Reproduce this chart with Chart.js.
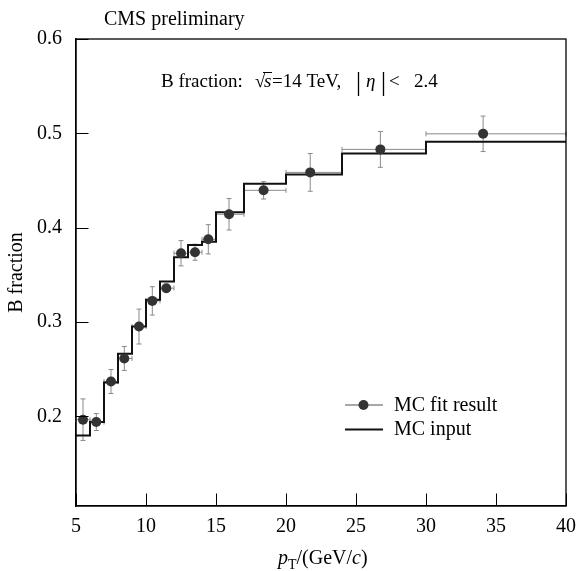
<!DOCTYPE html>
<html>
<head>
<meta charset="utf-8">
<script src="https://cdn.jsdelivr.net/npm/chart.js@4.4.0/dist/chart.umd.min.js"></script>
<style>
    html, body { margin: 0; padding: 0; background: #fff; }
</style>
</head>
<body>
<canvas id="canvas_bfrac" width="577" height="571"></canvas>
<script>
// MC fit result: bin centre, value, y error and bin edges (x error)
var fit_pt = [5.5, 6.45, 7.5, 8.45, 9.5, 10.45, 11.45, 12.5, 13.5, 14.45, 15.93, 18.4, 21.73, 26.74, 34.08];
var fit_frac = [0.1965, 0.194, 0.237, 0.2614, 0.2952, 0.3224, 0.3359, 0.3729, 0.374, 0.3877, 0.4142, 0.4396, 0.4586, 0.483, 0.4995];
var fit_err = [0.022, 0.009, 0.0127, 0.0127, 0.0185, 0.015, 0.004, 0.0134, 0.0085, 0.0155, 0.0167, 0.0092, 0.020, 0.019, 0.0188];
var fit_lo = [5, 6, 7, 8, 9, 10, 11, 12, 13, 14, 15, 17, 20, 24, 30];
var fit_hi = [6, 7, 8, 9, 10, 11, 12, 13, 14, 15, 17, 20, 24, 30, 40];

// MC input histogram
var input_edges = [5, 6, 7, 8, 9, 10, 11, 12, 13, 14, 15, 17, 20, 24, 30, 40];
var input_frac = [0.1796, 0.194, 0.236, 0.2663, 0.2952, 0.3235, 0.3429, 0.3687, 0.3817, 0.3852, 0.4163, 0.4466, 0.4565, 0.4787, 0.491];

var x_ticks = [5, 10, 15, 20, 25, 30, 35, 40];
var y_ticks = [0.2, 0.3, 0.4, 0.5, 0.6];

var FONT = "'Liberation Serif', 'DejaVu Serif', serif";
var ERR_COLOR = "#8a8a8a";
var MARK_COLOR = "#333333";

function buildStepData() {
    var pts = [];
    for (var i = 0; i < input_edges.length; i++) {
        var v = input_frac[Math.min(i, input_frac.length - 1)];
        pts.push({x: input_edges[i], y: v});
    }
    return pts;
}

function buildFitData() {
    var pts = [];
    for (var i in fit_pt) {
        pts.push({x: fit_pt[i], y: fit_frac[i]});
    }
    return pts;
}

// error bars, drawn under the markers
var errorBarPlugin = {
    id: 'errorBars',
    beforeDatasetsDraw: function(chart) {
        var ctx = chart.ctx;
        var xs = chart.scales.x, ys = chart.scales.y;
        var cap = 2.5;
        ctx.save();
        ctx.strokeStyle = ERR_COLOR;
        ctx.lineWidth = 1;
        for (var i = 0; i < fit_pt.length; i++) {
            var px = xs.getPixelForValue(fit_pt[i]);
            var py = ys.getPixelForValue(fit_frac[i]);
            var yhi = ys.getPixelForValue(fit_frac[i] + fit_err[i]);
            var ylo = ys.getPixelForValue(fit_frac[i] - fit_err[i]);
            var xl = xs.getPixelForValue(fit_lo[i]);
            var xh = xs.getPixelForValue(fit_hi[i]);
            ctx.beginPath();
            ctx.moveTo(px, yhi); ctx.lineTo(px, ylo);
            ctx.moveTo(px - cap, yhi); ctx.lineTo(px + cap, yhi);
            ctx.moveTo(px - cap, ylo); ctx.lineTo(px + cap, ylo);
            ctx.moveTo(xl, py); ctx.lineTo(xh, py);
            ctx.moveTo(xl, py - cap); ctx.lineTo(xl, py + cap);
            ctx.moveTo(xh, py - cap); ctx.lineTo(xh, py + cap);
            ctx.stroke();
        }
        ctx.restore();
    }
};

// frame, inner ticks, texts and legend
var decorPlugin = {
    id: 'decor',
    afterDraw: function(chart) {
        var ctx = chart.ctx;
        var a = chart.chartArea;
        var xs = chart.scales.x, ys = chart.scales.y;
        ctx.save();
        ctx.strokeStyle = "#000";
        ctx.lineWidth = 1.3;
        ctx.strokeRect(a.left, a.top, a.right - a.left, a.bottom - a.top);

        // ticks pointing inwards
        ctx.lineWidth = 1;
        ctx.beginPath();
        for (var i in x_ticks) {
            var px = Math.round(xs.getPixelForValue(x_ticks[i])) + 0.5;
            ctx.moveTo(px, a.bottom); ctx.lineTo(px, a.bottom - 12.5);
        }
        for (var j in y_ticks) {
            var py = Math.round(ys.getPixelForValue(y_ticks[j])) + 0.5;
            ctx.moveTo(a.left, py); ctx.lineTo(a.left + 12.5, py);
        }
        ctx.stroke();

        ctx.fillStyle = "#000";
        ctx.textBaseline = "alphabetic";
        ctx.textAlign = "left";

        // header
        ctx.font = "20px " + FONT;
        ctx.fillText("CMS preliminary", 104, 25);

        // B fraction: sqrt(s)=14 TeV, |eta| < 2.4
        var by = 87;
        ctx.font = "19px " + FONT;
        ctx.fillText("B fraction:", 161, by);
        ctx.fillText("\u221A", 255, by);
        ctx.font = "italic 19px " + FONT;
        ctx.fillText("s", 264, by);
        ctx.font = "19px " + FONT;
        ctx.fillText("=14 TeV,", 272, by);
        ctx.font = "italic 19px " + FONT;
        ctx.fillText("\u03B7", 366, by);
        ctx.font = "19px " + FONT;
        ctx.fillText("<", 389, by);
        ctx.fillText("2.4", 414, by);
        ctx.beginPath();
        ctx.lineWidth = 1;
        ctx.moveTo(263, 72.5); ctx.lineTo(272, 72.5);
        ctx.stroke();
        ctx.beginPath();
        ctx.lineWidth = 1.3;
        ctx.moveTo(358.5, 72); ctx.lineTo(358.5, 96);
        ctx.moveTo(383.5, 72); ctx.lineTo(383.5, 96);
        ctx.stroke();

        // x axis title p_T/(GeV/c)
        var tx = 278, ty = 564;
        ctx.font = "italic 20px " + FONT;
        ctx.fillText("p", tx, ty);
        tx += ctx.measureText("p").width;
        ctx.font = "14px " + FONT;
        ctx.fillText("T", tx, ty + 5);
        tx += ctx.measureText("T").width;
        ctx.font = "20px " + FONT;
        ctx.fillText("/(GeV/", tx, ty);
        tx += ctx.measureText("/(GeV/").width;
        ctx.font = "italic 20px " + FONT;
        ctx.fillText("c", tx, ty);
        tx += ctx.measureText("c").width;
        ctx.font = "20px " + FONT;
        ctx.fillText(")", tx, ty);

        // legend
        ctx.textBaseline = "middle";
        ctx.strokeStyle = ERR_COLOR;
        ctx.lineWidth = 1.5;
        ctx.beginPath();
        ctx.moveTo(345, 405); ctx.lineTo(383, 405);
        ctx.stroke();
        ctx.fillStyle = MARK_COLOR;
        ctx.beginPath();
        ctx.arc(363.5, 405, 5, 0, Math.PI * 2);
        ctx.fill();
        ctx.strokeStyle = "#111";
        ctx.lineWidth = 2;
        ctx.beginPath();
        ctx.moveTo(345, 429.5); ctx.lineTo(383, 429.5);
        ctx.stroke();
        ctx.fillStyle = "#000";
        ctx.font = "20px " + FONT;
        ctx.fillText("MC fit result", 394, 406);
        ctx.fillText("MC input", 394, 430);
        ctx.restore();
    }
};

function drawBFraction() {
    var ctx = document.getElementById("canvas_bfrac").getContext("2d");
    var tickFont = {family: FONT, size: 20};

    var chart = new Chart(ctx, {
        type: 'line',
        data: {
            datasets: [{
                label: 'MC input',
                data: buildStepData(),
                stepped: 'before',
                borderColor: '#111',
                borderWidth: 2,
                pointRadius: 0,
                fill: false,
                order: 2
            }, {
                type: 'scatter',
                label: 'MC fit result',
                data: buildFitData(),
                showLine: false,
                pointRadius: 5,
                pointBackgroundColor: MARK_COLOR,
                pointBorderColor: MARK_COLOR,
                pointBorderWidth: 0,
                order: 1
            }]
        },
        options: {
            responsive: false,
            animation: false,
            layout: {padding: {top: 39, right: 0, left: 0, bottom: 0}},
            plugins: {
                legend: {display: false},
                tooltip: {enabled: false}
            },
            scales: {
                x: {
                    type: 'linear',
                    min: 5,
                    max: 40,
                    grid: {display: false},
                    border: {display: true, color: '#000', width: 1.3},
                    ticks: {font: tickFont, color: '#000', padding: 1, maxRotation: 0},
                    afterBuildTicks: function(s) {
                        s.ticks = x_ticks.map(function(v) { return {value: v}; });
                    },
                    afterFit: function(s) { s.height = 65; }
                },
                y: {
                    type: 'linear',
                    min: 0.105,
                    max: 0.6,
                    grid: {display: false},
                    border: {display: true, color: '#000', width: 1.3},
                    ticks: {
                        font: tickFont, color: '#000', padding: 6,
                        callback: function(v) { return v.toFixed(1); }
                    },
                    afterBuildTicks: function(s) {
                        s.ticks = y_ticks.map(function(v) { return {value: v}; });
                    },
                    title: {
                        display: true,
                        text: 'B fraction',
                        color: '#000',
                        font: {family: FONT, size: 20},
                        padding: {top: 5, bottom: 0}
                    },
                    afterFit: function(s) { s.width = 76; }
                }
            }
        },
        plugins: [errorBarPlugin, decorPlugin]
    });
}

drawBFraction();
</script>
</body>
</html>
